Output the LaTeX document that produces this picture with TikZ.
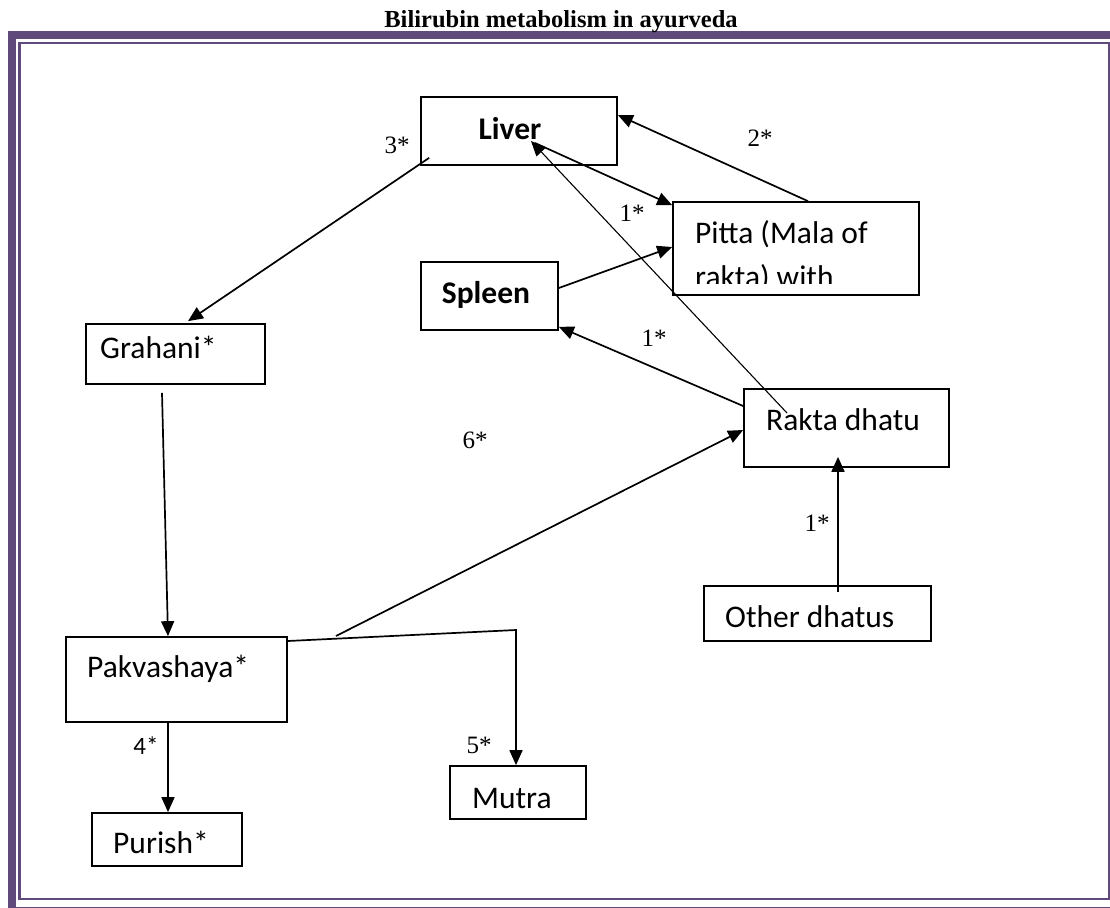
\documentclass[tikz,border=0pt]{standalone}
\usepackage{fontspec}
\setmainfont{Liberation Serif}
\newfontfamily\boxfont{Carlito}
\usetikzlibrary{arrows.meta}
\definecolor{framepurple}{HTML}{604A7B}
\begin{document}
\begin{tikzpicture}[x=1pt,y=-1pt,
  box/.style={draw, line width=1.7pt, inner sep=0pt},
  txt/.style={font=\boxfont\fontsize{31.5}{37}\selectfont, anchor=base west, inner sep=0pt},
  btxt/.style={font=\boxfont\bfseries\fontsize{31.5}{37}\selectfont, anchor=base, inner sep=0pt},
  lbl/.style={font=\fontsize{25}{28}\selectfont, inner sep=0pt},
  slbl/.style={font=\boxfont\fontsize{25}{30}\selectfont, inner sep=0pt},
  conn/.style={line width=1.7pt, -{Triangle[length=15pt,width=13pt]}},
  thinconn/.style={line width=1.1pt, -{Triangle[length=15pt,width=13pt]}}]
\useasboundingbox (0,0) rectangle (1110,907);
\clip (0,0) rectangle (1110,907);
% frame
\draw[framepurple, line width=8pt] (12,35) rectangle (1130,911);
\draw[framepurple, line width=2.2pt] (19.5,43) rectangle (1109.5,899);
% title
\node[font=\bfseries\fontsize{24.5}{28}\selectfont, anchor=base, inner sep=0pt] (title) at (561,28) {Bilirubin metabolism in ayurveda};
% boxes
\node[box, minimum width=196pt, minimum height=68pt] (liver) at (519,131) {};
\node[box, minimum width=246pt, minimum height=93pt] (pitta) at (796,248.5) {};
\node[box, minimum width=137pt, minimum height=68pt] (spleen) at (489.5,296) {};
\node[box, minimum width=179pt, minimum height=60pt] (grahani) at (175.5,354) {};
\node[box, minimum width=205pt, minimum height=78pt] (rakta) at (846.5,428) {};
\node[box, minimum width=227pt, minimum height=55pt] (other) at (817.5,613.5) {};
\node[box, minimum width=221pt, minimum height=85pt] (pakva) at (176.5,679.5) {};
\node[box, minimum width=150pt, minimum height=53pt] (purish) at (167,839.5) {};
\node[box, minimum width=136pt, minimum height=53pt] (mutra) at (518,792.5) {};
% texts
\node[btxt] (tliver) at (510,139) {Liver};
\node[btxt] (tspleen) at (486,303) {Spleen};
\node[txt] (tgrahani) at (100,358) {Grahani*};
\node[txt] (tpitta1) at (695,243) {Pitta (Mala of};
\begin{scope}
\clip (680,250) rectangle (915,283);
\node[txt] (tpitta2) at (695,287) {rakta) with};
\end{scope}
\node[txt] (trakta) at (766,430) {Rakta dhatu};
\node[txt] (tother) at (725,627) {Other dhatus};
\node[txt] (tpakva) at (87,677) {Pakvashaya*};
\node[txt] (tpurish) at (113,853) {Purish*};
\node[txt] (tmutra) at (472,808) {Mutra};
% connectors
\draw[conn] ([shift={(9,-8)}]liver.south west) -- ([shift={(12.5,-2)}]grahani.north);
\draw[conn] ([shift={(12,0)}]pitta.north) -- ([shift={(0,-16)}]liver.east);
\draw[conn] ([shift={(16,12)}]liver.center) -- ([shift={(0,4)}]pitta.north west);
\draw[conn] ([shift={(0,-8)}]spleen.east) -- ([shift={(0,-1.5)}]pitta.west);
\draw[conn] ([shift={(0,-22)}]rakta.west) -- ([shift={(0,-4)}]spleen.south east);
\draw[thinconn] ([shift={(-59.5,-15)}]rakta.center) -- ([shift={(12,10)}]liver.center);
\draw[conn] ([shift={(-13.5,8)}]grahani.south) -- ([shift={(-8.5,0)}]pakva.north);
\draw[conn] ([shift={(-8.5,0)}]pakva.south) -- ([shift={(1,0)}]purish.north);
\coordinate (bend) at (516,630);
\coordinate (junc) at (336,636);
\draw[conn] ([shift={(0,-38.5)}]pakva.east) -- (bend) -- ([shift={(-2,0)}]mutra.north);
\draw[conn] (junc) -- ([shift={(0,2)}]rakta.west);
\draw[conn] ([shift={(20.5,7)}]other.north) -- ([shift={(-8.5,-11)}]rakta.south);
% labels
\node[lbl] (l3) at (397,145) {3*};
\node[lbl] (l2) at (760,138) {2*};
\node[lbl] (l1a) at (632,213) {1*};
\node[lbl] (l1b) at (654,338) {1*};
\node[lbl] (l6) at (475,440) {6*};
\node[lbl] (l1c) at (817,523) {1*};
\node[slbl] (l4) at (146,746) {4*};
\node[lbl] (l5) at (479,745) {5*};
\end{tikzpicture}
\end{document}
